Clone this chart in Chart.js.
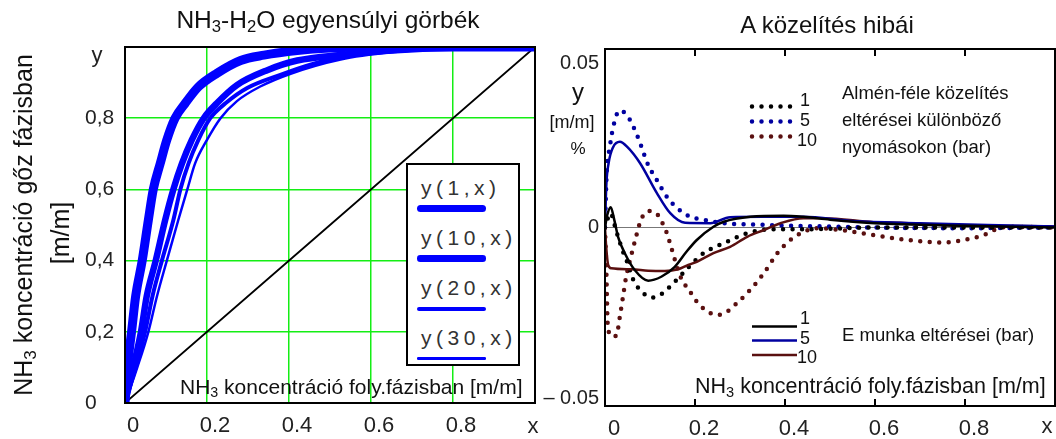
<!DOCTYPE html>
<html lang="hu">
<head>
<meta charset="utf-8">
<script src="https://cdn.jsdelivr.net/npm/chart.js@4.4.0/dist/chart.umd.min.js"></script>
<style>
  html, body { margin: 0; padding: 0; background: #fff; }
  body { width: 1056px; height: 439px; position: relative; overflow: hidden;
         font-family: "Liberation Sans", Arial, sans-serif; color: #111; }
  .pane { position: absolute; top: 0; }
  .t { position: absolute; white-space: nowrap; line-height: 1; font-family: "Liberation Sans", Arial, sans-serif; }
  .c { transform: translate(-50%, -50%); }
  .l { transform: translate(0, -50%); }
  .rot { transform: translate(-50%, -50%) rotate(-90deg); }
  sub { font-size: 68%; vertical-align: -0.28em; line-height: 0; }
</style>
</head>
<body>
<div class="pane" style="left:0;width:540px;height:439px"><canvas id="cLeft" width="540" height="439"></canvas></div>
<div class="pane" style="left:540px;width:516px;height:439px"><canvas id="cRight" width="516" height="439"></canvas></div>

<!-- bal oldali diagram szövegei -->
<div class="t c" style="left:328px;top:20px;font-size:24.5px">NH<sub>3</sub>-H<sub>2</sub>O egyensúlyi görbék</div>
<div class="t rot" style="left:23px;top:225px;font-size:25px">NH<sub>3</sub> koncentráció gőz fázisban</div>
<div class="t rot" style="left:60px;top:233px;font-size:25px">[m/m]</div>
<div class="t l" style="left:180px;top:386px;font-size:21px">NH<sub>3</sub> koncentráció foly.fázisban [m/m]</div>
<div class="t c" style="left:97px;top:55px;font-size:22px;color:#222">y</div>
<div class="t c" style="left:533px;top:426px;font-size:22px;color:#222">x</div>
<div id="legLeft" style="position:absolute;left:406px;top:163px;width:110px;height:199px;border:2px solid #000;background:#fff"></div>

<!-- jobb oldali diagram szövegei -->
<div class="t c" style="left:827px;top:25px;font-size:24px">A közelítés hibái</div>
<div class="t c" style="left:578px;top:92px;font-size:24px">y</div>
<div class="t c" style="left:572px;top:122px;font-size:18px">[m/m]</div>
<div class="t c" style="left:578px;top:148px;font-size:17px">%</div>
<div class="t l" style="left:842px;top:93px;font-size:18.5px">Almén-féle közelítés</div>
<div class="t l" style="left:842px;top:120px;font-size:18.5px">eltérései különböző</div>
<div class="t l" style="left:842px;top:147px;font-size:18.5px">nyomásokon (bar)</div>
<div class="t l" style="left:842px;top:335px;font-size:18.5px">E munka eltérései (bar)</div>
<div class="t l" style="left:695px;top:387px;font-size:21.5px">NH<sub>3</sub> koncentráció foly.fázisban [m/m]</div>
<div class="t c" style="left:1047px;top:426px;font-size:22px;color:#222">x</div>
<div id="numRight"></div>

<script>
/* NH3-H2O egyensúlyi görbék + a közelítés hibái */
Chart.defaults.font.family = '"Liberation Sans", Arial, sans-serif';
Chart.defaults.color = '#222';

// bal diagram: y(p, x) görbék, [x, y] párok
const pressures = [1, 10, 20, 30];
const curveP1  = [[0,0],[0.006,0.1],[0.016,0.2],[0.026,0.3],[0.042,0.4],[0.057,0.514],[0.069,0.6],[0.086,0.673],[0.102,0.739],[0.122,0.8],[0.147,0.842],[0.179,0.888],[0.224,0.926],[0.282,0.962],[0.339,0.977],[0.42,0.99],[0.5,0.997],[0.6,1],[1,1]];
const curveP10 = [[0,0],[0.02,0.1],[0.039,0.2],[0.053,0.3],[0.075,0.4],[0.098,0.514],[0.118,0.6],[0.139,0.673],[0.163,0.739],[0.192,0.8],[0.224,0.842],[0.273,0.893],[0.347,0.935],[0.42,0.962],[0.53,0.978],[0.65,0.99],[0.8,0.998],[1,1]];
const curveP20 = [[0,0],[0.026,0.1],[0.049,0.2],[0.067,0.3],[0.09,0.4],[0.118,0.514],[0.135,0.6],[0.155,0.673],[0.179,0.739],[0.208,0.8],[0.245,0.842],[0.298,0.885],[0.379,0.922],[0.45,0.95],[0.53,0.972],[0.65,0.988],[0.8,0.997],[1,1]];
const curveP30 = [[0,0],[0.03,0.1],[0.057,0.2],[0.078,0.3],[0.102,0.4],[0.13,0.514],[0.152,0.6],[0.171,0.673],[0.2,0.739],[0.233,0.8],[0.273,0.848],[0.33,0.889],[0.404,0.925],[0.526,0.965],[0.65,0.985],[0.8,0.996],[1,1]];
const diagonal = [[0,0],[1,1]];
const leftXTicks = ['0', '0.2', '0.4', '0.6', '0.8', ''];
const leftYTicks = ['0', '0,2', '0,4', '0,6', '0,8', ''];

// jobb diagram: eltérések 1, 5, 10 bar nyomáson
const rightPressures = [1, 5, 10];
const almen1  = [[0,0],[0.012,0.004],[0.025,-0.001],[0.04,-0.0068],[0.051,-0.0102],[0.063,-0.0147],[0.078,-0.0175],[0.092,-0.019],[0.106,-0.0196],[0.126,-0.0186],[0.144,-0.0166],[0.163,-0.0142],[0.185,-0.0112],[0.219,-0.0072],[0.264,-0.0044],[0.316,-0.0016],[0.368,-0.0005],[0.45,-0.0005],[0.6,0],[1,0]];
const almen5  = [[0,0],[0.004,0.016],[0.01,0.022],[0.018,0.028],[0.032,0.0327],[0.045,0.032],[0.056,0.03],[0.074,0.025],[0.096,0.0175],[0.115,0.0133],[0.138,0.0085],[0.16,0.0055],[0.19,0.003],[0.218,0.0022],[0.264,0.0012],[0.338,0.0008],[0.45,0.0004],[0.6,0],[0.8,-0.0002],[1,0]];
const almen10 = [[0,0],[0.003,-0.012],[0.006,-0.027],[0.014,-0.0304],[0.025,-0.0304],[0.033,-0.025],[0.04,-0.0194],[0.047,-0.0138],[0.055,-0.0095],[0.063,-0.0055],[0.07,-0.0021],[0.08,0.0022],[0.096,0.0046],[0.114,0.004],[0.127,0.0014],[0.137,-0.0014],[0.147,-0.0055],[0.16,-0.011],[0.171,-0.0147],[0.185,-0.0172],[0.204,-0.0208],[0.223,-0.0231],[0.249,-0.0245],[0.271,-0.0236],[0.293,-0.0212],[0.316,-0.0184],[0.353,-0.0128],[0.383,-0.0072],[0.412,-0.0035],[0.442,-0.0012],[0.47,-0.0002],[0.523,-0.0007],[0.597,-0.0021],[0.672,-0.0035],[0.75,-0.0042],[0.798,-0.0035],[0.842,-0.0021],[0.865,-0.0007],[0.894,0.0002],[1,0]];
const emunka1  = [[0,0],[0.005,0.0035],[0.0127,0.0057],[0.02,0.0025],[0.029,-0.0026],[0.044,-0.0072],[0.066,-0.0119],[0.096,-0.0149],[0.125,-0.0138],[0.155,-0.011],[0.181,-0.0068],[0.204,-0.0035],[0.241,0.0002],[0.264,0.0016],[0.323,0.003],[0.397,0.0033],[0.44,0.003],[0.5,0.0022],[0.6,0.0012],[0.8,0.0005],[1,0]];
const emunka5  = [[0,0],[0.003,0.012],[0.008,0.018],[0.018,0.0225],[0.033,0.024],[0.05,0.0225],[0.078,0.018],[0.115,0.0097],[0.145,0.004],[0.178,0.0013],[0.234,0.0012],[0.278,0.0029],[0.35,0.003],[0.44,0.003],[0.55,0.0018],[0.7,0.0012],[0.85,0.0007],[1,0.0003]];
const emunka10 = [[0,0],[0.003,-0.006],[0.007,-0.0105],[0.014,-0.0114],[0.059,-0.0117],[0.096,-0.0121],[0.133,-0.0122],[0.163,-0.0117],[0.185,-0.0105],[0.204,-0.0096],[0.241,-0.0072],[0.278,-0.0054],[0.316,-0.0026],[0.353,-0.0007],[0.39,0.0012],[0.441,0.0026],[0.486,0.0026],[0.597,0.0015],[0.657,0.0013],[0.75,0.0007],[1,0.0003]];
const rightXTicks = ['0', '0.2', '0.4', '0.6', '0.8', ''];
const rightYTicks = ['\u2013 0.05', '0', '0.05'];
const rightYTickAt = [-0.048, 0, 0.046];   // Mathcad a szélső címkéket befelé tolja

const GRID_GREEN = '#14ee14';
const BLUE = '#0000ff';
const leftWidths = [9, 6.5, 4, 2.5];
const rightColors = ['#000000', '#0000a0', '#5a1010'];

const toXY = (arr) => arr.map(([x, y]) => ({ x, y }));

/* keret + befelé álló osztások */
const framePlugin = {
    id: 'frame',
    afterDatasetsDraw(chart, args, opts) {
        const { ctx, chartArea: a } = chart;
        ctx.save();
        ctx.strokeStyle = '#000'; ctx.lineWidth = 2;
        ctx.strokeRect(a.left, a.top, a.right - a.left, a.bottom - a.top);
        if (opts.innerTicks) {
            const xs = chart.scales.x;
            ctx.beginPath();
            xs.ticks.forEach(t => {
                if (t.value <= xs.min || t.value >= xs.max) return;
                const px = xs.getPixelForValue(t.value);
                ctx.moveTo(px, a.top); ctx.lineTo(px, a.top + opts.innerTicks);
                ctx.moveTo(px, a.bottom); ctx.lineTo(px, a.bottom - opts.innerTicks);
            });
            ctx.stroke();
        }
        ctx.restore();
    }
};

/* jelmagyarázat vonalminták a dataset stílusából */
const samplePlugin = {
    id: 'samples',
    afterDraw(chart, args, opts) {
        const ctx = chart.ctx;
        (opts.items || []).forEach(it => {
            const ds = chart.data.datasets[it.ds];
            ctx.save();
            ctx.strokeStyle = ds.borderColor; ctx.lineWidth = ds.borderWidth;
            ctx.lineCap = ds.borderCapStyle || 'butt';
            ctx.setLineDash(ds.borderDash || []);
            ctx.beginPath(); ctx.moveTo(it.x0, it.y); ctx.lineTo(it.x1, it.y); ctx.stroke();
            ctx.restore();
        });
    }
};

const lineDs = (label, pts, color, width, extra = {}) => Object.assign({
    label, data: toXY(pts), borderColor: color, borderWidth: width,
    pointRadius: 0, cubicInterpolationMode: 'monotone', clip: 0, fill: false
}, extra);

// a címkék ne szűkítsék a rajzterületet
const fixX = (h) => (s) => { s.height = h; s.paddingLeft = 0; s.paddingRight = 0; };
const fixY = (w) => (s) => { s.width = w; s.paddingTop = 0; s.paddingBottom = 0; };

// bal diagram
new Chart(document.getElementById('cLeft'), {
    type: 'line',
    data: {
        datasets: [
            ...[curveP1, curveP10, curveP20, curveP30].map((c, i) => lineDs(`y(${pressures[i]}, x)`, c, BLUE, leftWidths[i])),
            lineDs('x', diagonal, '#000', 1.8)
        ]
    },
    options: {
        responsive: false, animation: false, events: [],
        layout: { padding: { left: 85, right: 5, top: 47, bottom: 0 } },
        plugins: { legend: { display: false }, tooltip: { enabled: false }, frame: {} },
        scales: {
            x: {
                type: 'linear', min: 0, max: 1,
                afterFit: fixX(36),
                ticks: { stepSize: 0.2, padding: 10, labelOffset: 8, font: { size: 22 }, maxRotation: 0, callback: (v, i) => leftXTicks[i] },
                grid: { color: GRID_GREEN, lineWidth: 1.5, drawTicks: false },
                border: { display: false }
            },
            y: {
                type: 'linear', min: 0, max: 1,
                afterFit: fixY(40),
                ticks: { stepSize: 0.2, crossAlign: 'far', font: { size: 21 }, callback: (v, i) => leftYTicks[i] },
                grid: { color: GRID_GREEN, lineWidth: 1.5, drawTicks: false },
                border: { display: false }
            }
        }
    },
    plugins: [framePlugin]
});

// bal jelmagyarázat (HTML szöveg + minta)
const legLeft = document.getElementById('legLeft');
pressures.forEach((p, i) => {
    const txt = document.createElement('div');
    txt.className = 't l';
    txt.style.cssText = `left:${421 - 408}px;top:${187 - 165 + 50 * i}px;font-size:21px;letter-spacing:4.5px;color:#333`;
    txt.textContent = `y(${p},x)`;
    legLeft.appendChild(txt);
    const smp = document.createElement('div');
    const w = Math.min(leftWidths[i], 7);
    smp.style.cssText = `position:absolute;left:${417 - 408}px;top:${208.5 - 165 + 50 * i - w / 2}px;width:69px;height:${w}px;background:${BLUE};border-radius:${w / 2}px`;
    legLeft.appendChild(smp);
});

// jobb diagram
const rightSets = [
    ...[emunka1, emunka5, emunka10].map((c, i) => lineDs(`E munka ${rightPressures[i]}`, c, rightColors[i], 2.5)),
    ...[almen1, almen5, almen10].map((c, i) => lineDs(`Almén ${rightPressures[i]}`, c, rightColors[i], 4.5,
        { borderDash: [0, 9.5], borderCapStyle: 'round' }))
];

new Chart(document.getElementById('cRight'), {
    type: 'line',
    data: { datasets: rightSets },
    options: {
        responsive: false, animation: false, events: [],
        layout: { padding: { left: 0, right: 1, top: 49, bottom: 0 } },
        plugins: {
            legend: { display: false }, tooltip: { enabled: false },
            frame: { innerTicks: 7 },
            samples: {
                items: [
                    { ds: 3, x0: 212, x1: 255, y: 106.5 },
                    { ds: 4, x0: 212, x1: 255, y: 121.5 },
                    { ds: 5, x0: 212, x1: 255, y: 136.5 },
                    { ds: 0, x0: 212, x1: 257, y: 326.5 },
                    { ds: 1, x0: 212, x1: 257, y: 340.5 },
                    { ds: 2, x0: 212, x1: 257, y: 355 }
                ]
            }
        },
        scales: {
            x: {
                type: 'linear', min: 0, max: 1,
                afterFit: fixX(33),
                ticks: { stepSize: 0.2, padding: 10, labelOffset: 9, font: { size: 22 }, maxRotation: 0, callback: (v, i) => rightXTicks[i] },
                grid: { display: false, drawTicks: false },
                border: { display: false }
            },
            y: {
                type: 'linear', min: -0.05, max: 0.05,
                afterFit: fixY(65),
                afterBuildTicks: s => { s.ticks = rightYTickAt.map(v => ({ value: v })); },
                ticks: { padding: 6, font: { size: 20 }, callback: (v, i) => rightYTicks[i] },
                grid: { color: c => (c.tick && c.tick.value === 0) ? '#777' : 'rgba(0,0,0,0)', lineWidth: 1, drawTicks: false },
                border: { display: false }
            }
        }
    },
    plugins: [framePlugin, samplePlugin]
});

// nyomás címkék a vonalminták mellett
const numRight = document.getElementById('numRight');
const addNum = (txt, left, top) => {
    const d = document.createElement('div');
    d.className = 't l';
    d.style.cssText = `left:${left}px;top:${top}px;font-size:18px`;
    d.textContent = txt;
    numRight.appendChild(d);
};
const dotRowY = [100, 120, 140], solidRowY = [318, 338, 357];
rightPressures.forEach((p, i) => {
    const left = String(p).length > 1 ? 797 : 800;
    addNum(String(p), left, dotRowY[i]);
    addNum(String(p), left, solidRowY[i]);
});
</script>
</body>
</html>
